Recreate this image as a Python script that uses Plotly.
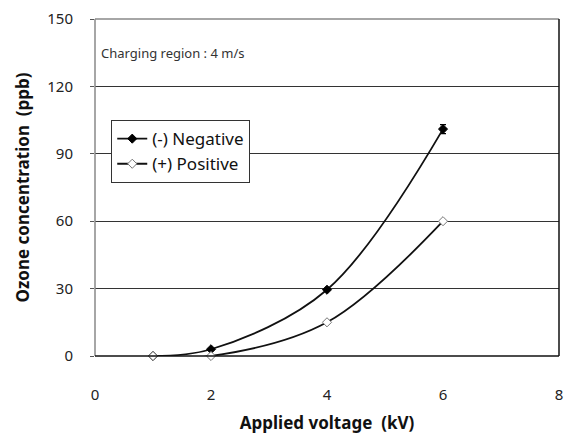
import plotly.graph_objects as go

# Ozone concentration vs applied voltage, charging region at 4 m/s
voltage_neg = [1, 2, 4, 6]
ozone_neg = [0, 3, 29.5, 101]
ozone_neg_err = [0, 0, 0, 2]

voltage_pos = [1, 2, 4, 6]
ozone_pos = [0, 0, 15, 60]

x_ticks = [0, 2, 4, 6, 8]
y_ticks = [0, 30, 60, 90, 120, 150]

FONT = "Noto Sans"

fig = go.Figure()

fig.add_trace(go.Scatter(
    x=voltage_neg, y=ozone_neg, name="(-) Negative",
    mode="lines+markers",
    line=dict(color="#111111", width=1.8, shape="spline", smoothing=1.0),
    marker=dict(symbol="diamond", size=7, color="#000000",
                line=dict(color="#000000", width=1)),
    error_y=dict(type="data", array=ozone_neg_err, color="#000000",
                 thickness=1.2, width=3),
    cliponaxis=False,
))

fig.add_trace(go.Scatter(
    x=voltage_pos, y=ozone_pos, name="(+) Positive",
    mode="lines+markers",
    line=dict(color="#111111", width=1.8, shape="spline", smoothing=1.0),
    marker=dict(symbol="diamond", size=7, color="#ffffff",
                line=dict(color="#777777", width=1)),
    cliponaxis=False,
))

fig.add_annotation(
    text="Charging region : 4 m/s", xref="paper", yref="paper",
    x=0.008, y=0.9, xanchor="left", yanchor="middle", showarrow=False,
    font=dict(family=FONT, size=13, color="#333333"),
)

# plot frame: grey top/left, black right/bottom
frame = [
    (0, 1, 1, 1, "#888888"),
    (0, 0, 0, 1, "#888888"),
    (1, 0, 1, 1, "#111111"),
    (0, 0, 1, 0, "#111111"),
]
for x0, y0, x1, y1, c in frame:
    fig.add_shape(type="line", xref="paper", yref="paper",
                  x0=x0, y0=y0, x1=x1, y1=y1,
                  line=dict(color=c, width=1.5), layer="above")

fig.update_layout(
    width=566, height=434,
    margin=dict(l=95, r=7, t=19, b=78),
    paper_bgcolor="white", plot_bgcolor="white",
    font=dict(family=FONT, color="#222222"),
    showlegend=True,
    legend=dict(
        x=0.035, y=0.70, xanchor="left", yanchor="top",
        bgcolor="white", bordercolor="#333333", borderwidth=1,
        font=dict(family=FONT, size=17, color="#111111"),
        itemwidth=30, tracegroupgap=0,
    ),
    xaxis=dict(
        range=[0, 8], tickvals=x_ticks, showgrid=False, zeroline=False,
        showline=False, ticks="", tickfont=dict(size=15, color="#222222"),
        ticklabelstandoff=28, automargin=False,
        title=dict(text="<b>Applied voltage  (kV)</b>",
                   font=dict(family=FONT, size=17, color="#111111"),
                   standoff=14),
    ),
    yaxis=dict(
        range=[0, 150], tickvals=y_ticks, showgrid=True,
        gridcolor="#333333", gridwidth=1, zeroline=False,
        showline=False, ticks="outside", ticklen=4, tickcolor="#555555",
        tickfont=dict(size=15, color="#222222"),
        ticklabelstandoff=14, automargin=False,
        title=dict(text="<b>Ozone concentration  (ppb)</b>",
                   font=dict(family=FONT, size=17, color="#111111"),
                   standoff=13),
    ),
)

fig.write_html("out.html")
